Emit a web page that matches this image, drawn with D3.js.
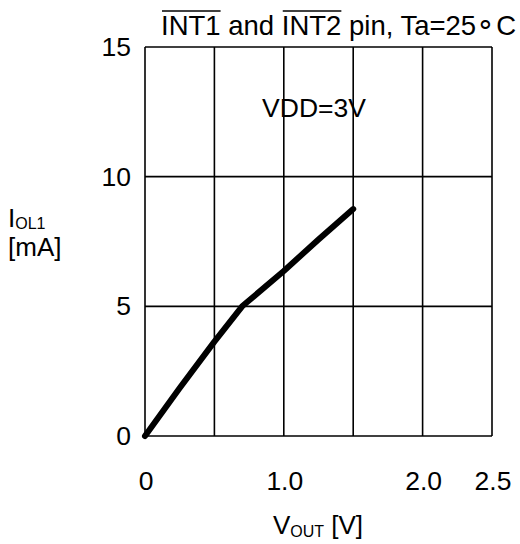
<!DOCTYPE html>
<html>
<head>
<meta charset="utf-8">
<script src="https://cdn.jsdelivr.net/npm/d3@7"></script>
<style>
  body { margin: 0; background: #fff; }
  text { font-family: "Liberation Sans", Arial, sans-serif; fill: #000; }
</style>
</head>
<body>
<script>
// curve: V_OUT [V] vs I_OL1 [mA]
const vOut = [0, 0.25, 0.5, 0.7, 1.0, 1.25, 1.5];
const iOl = [0, 1.85, 3.64, 5.0, 6.36, 7.58, 8.75];

const xGrid = [0, 0.5, 1.0, 1.5, 2.0, 2.5];
const xTickLabels = [0, 1.0, 2.0, 2.5];
const yGrid = [0, 5, 10, 15];

const svg = d3.select('body').append('svg')
  .attr('width', 520)
  .attr('height', 544);

// scales
const x = d3.scaleLinear().domain([0, 2.5]).range([145, 492]);
const y = d3.scaleLinear().domain([0, 15]).range([436, 47]);

// grid (vertical and horizontal)
svg.append('g').selectAll('line')
  .data(xGrid)
  .enter().append('line')
  .attr('x1', d => x(d)).attr('x2', d => x(d))
  .attr('y1', y(0)).attr('y2', y(15))
  .attr('stroke', '#000').attr('stroke-width', 1.6);

svg.append('g').selectAll('line')
  .data(yGrid)
  .enter().append('line')
  .attr('x1', x(0)).attr('x2', x(2.5))
  .attr('y1', d => y(d)).attr('y2', d => y(d))
  .attr('stroke', '#000').attr('stroke-width', 1.6);

// tick labels
svg.append('g').selectAll('text')
  .data(yGrid)
  .enter().append('text')
  .attr('x', 131)
  .attr('y', d => y(d) + 9)
  .attr('text-anchor', 'end')
  .style('font-size', '26.5px')
  .text(d => d);

svg.append('g').selectAll('text')
  .data(xTickLabels)
  .enter().append('text')
  .attr('x', d => x(d) + 1)
  .attr('y', 490)
  .attr('text-anchor', 'middle')
  .style('font-size', '26.5px')
  .text(d => d === 0 ? '0' : d3.format('.1f')(d));

// the curve
const pts = vOut.map((v, i) => [v, iOl[i]]);
svg.append('path')
  .datum(pts)
  .attr('d', d3.line().x(d => x(d[0])).y(d => y(d[1])))
  .attr('fill', 'none')
  .attr('stroke', '#000')
  .attr('stroke-width', 6)
  .attr('stroke-linecap', 'round')
  .attr('stroke-linejoin', 'round');

// title with overlined pin names
const title = svg.append('text')
  .attr('x', 161)
  .attr('y', 35)
  .style('font-size', '27.5px');
title.append('tspan').text('INT1 and INT2 pin, Ta=25');
title.append('tspan').style('font-size', '30px').attr('dy', -1).text('\u2218');
title.append('tspan').attr('dy', 1).attr('dx', 1).text('C');
const tn = title.node();
[[0, 3], [9, 12]].forEach(function(r) {
  const x1 = tn.getStartPositionOfChar(r[0]).x;
  const x2 = tn.getEndPositionOfChar(r[1]).x;
  svg.append('line')
    .attr('x1', x1 + 1).attr('x2', x2)
    .attr('y1', 11).attr('y2', 11)
    .attr('stroke', '#000').attr('stroke-width', 1.6);
});

svg.append('text')
  .attr('x', 314)
  .attr('y', 117)
  .attr('text-anchor', 'middle')
  .style('font-size', '26.5px')
  .text('VDD=3V');

// axis labels
const yl = svg.append('text')
  .attr('x', 8)
  .attr('y', 227)
  .style('font-size', '26px');
yl.append('tspan').text('I');
yl.append('tspan').attr('dy', 2).style('font-size', '16px').text('OL1');

svg.append('text')
  .attr('x', 8)
  .attr('y', 256)
  .style('font-size', '26px')
  .text('[mA]');

const xl = svg.append('text')
  .attr('x', 318)
  .attr('y', 534)
  .attr('text-anchor', 'middle')
  .style('font-size', '26px');
xl.append('tspan').text('V');
xl.append('tspan').attr('dy', 3).style('font-size', '16px').text('OUT');
xl.append('tspan').attr('dy', -3).text(' [V]');
</script>
</body>
</html>
